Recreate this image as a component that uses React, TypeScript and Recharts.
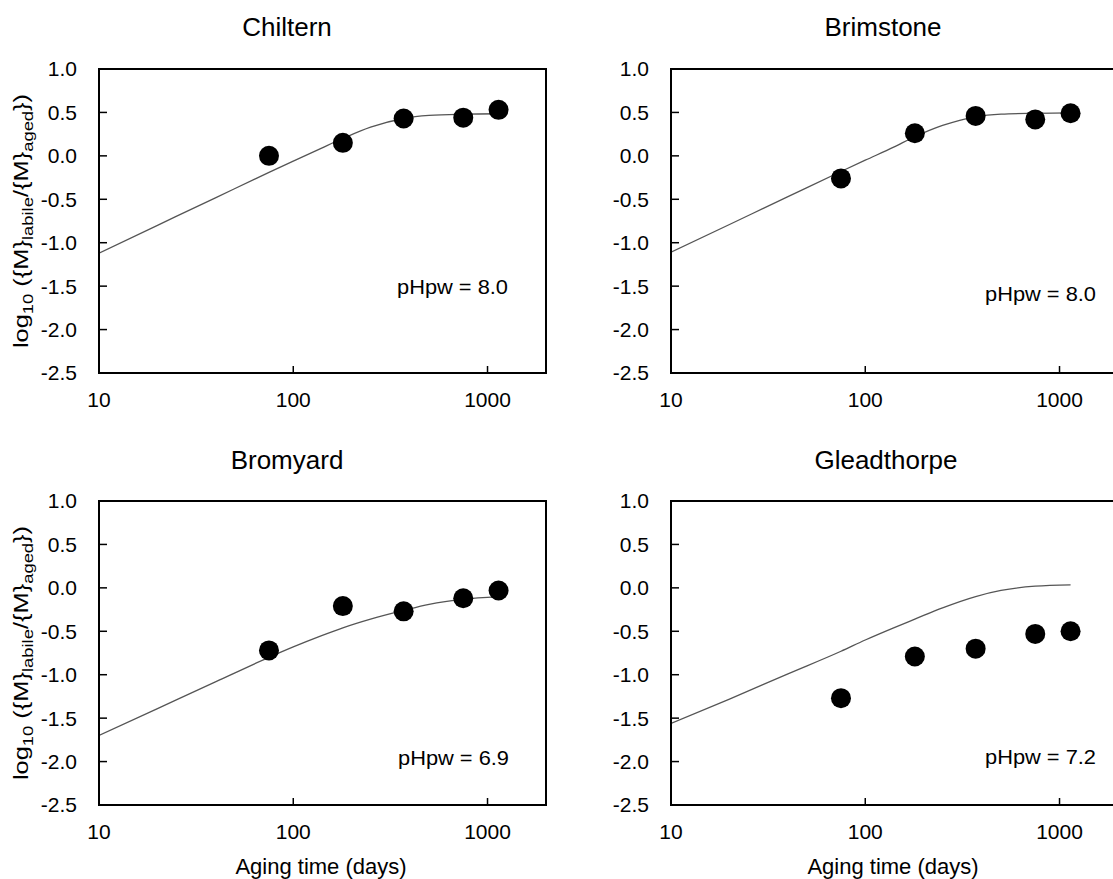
import React from 'react';
import { ComposedChart, Line, Scatter, XAxis, YAxis, ReferenceArea } from 'recharts';

const FONT = '"Liberation Sans", Arial, Helvetica, sans-serif';

// Observed points (aging time in days)
const agingDays = [75, 180, 370, 750, 1140];
const chilternObs = [0.0, 0.15, 0.43, 0.44, 0.53];
const brimstoneObs = [-0.26, 0.26, 0.46, 0.42, 0.49];
const bromyardObs = [-0.72, -0.21, -0.27, -0.12, -0.03];
const gleadthorpeObs = [-1.27, -0.79, -0.7, -0.53, -0.5];

// Model curves
const curveDays = [10, 20, 40, 75, 100, 140, 180, 250, 370, 500, 750, 1140];
const chilternFit = [-1.12, -0.8, -0.48, -0.19, -0.06, 0.09, 0.2, 0.33, 0.43, 0.465, 0.48, 0.485];
const brimstoneFit = [-1.11, -0.79, -0.47, -0.18, -0.05, 0.1, 0.22, 0.35, 0.45, 0.48, 0.49, 0.495];
const bromyardFit = [-1.7, -1.39, -1.08, -0.8, -0.68, -0.55, -0.46, -0.36, -0.26, -0.19, -0.13, -0.1];
const gleadthorpeFit = [-1.56, -1.28, -0.99, -0.73, -0.6, -0.46, -0.36, -0.23, -0.1, -0.03, 0.02, 0.035];

const xTicks = [10, 100, 1000];
const yTicks = [-2.5, -2.0, -1.5, -1.0, -0.5, 0.0, 0.5, 1.0];
const xDomain = [10, 2000];
const yDomain = [-2.5, 1.0];

const CW = 560;
const CH = 447;
const MARGIN = { top: 69, left: 98, right: CW - 99 - 447, bottom: CH - 69 - 304 - 1 };

type PanelProps = {
  title: string;
  obs: number[];
  fit: number[];
  ph: string;
  left: number;
  top: number;
  titleX: number;
  titleY: number;
  phX: number;
  phY: number;
  yLabel: boolean;
  xLabel: boolean;
};

const Dot = (p: any) => {
  if (p.cx == null || p.cy == null) return null;
  return <circle cx={p.cx} cy={p.cy} r={10} fill="#000" />;
};

function Panel(props: PanelProps) {
  const obsData = agingDays.map((x, i) => ({ x, y: props.obs[i] }));
  const fitData = curveDays.map((x, i) => ({ x, y: props.fit[i] }));
  const plotCenterY = 69 + 152;
  return (
    <div style={{ position: 'absolute', left: props.left, top: props.top, width: CW, height: CH }}>
      <ComposedChart width={CW} height={CH} margin={MARGIN}>
        <XAxis
          type="number"
          dataKey="x"
          scale="log"
          domain={xDomain}
          ticks={xTicks}
          interval={0}
          allowDataOverflow
          height={1}
          tickSize={-7}
          tickMargin={26}
          axisLine={{ stroke: '#000', strokeWidth: 2 }}
          tickLine={{ stroke: '#000', strokeWidth: 1.5 }}
          tick={{ fontSize: 21, fill: '#000', fontFamily: FONT }}
        />
        <YAxis
          type="number"
          dataKey="y"
          domain={yDomain}
          ticks={yTicks}
          interval={0}
          allowDataOverflow
          width={1}
          tickSize={-8}
          tickMargin={30}
          tickFormatter={(v: number) => v.toFixed(1)}
          axisLine={{ stroke: '#000', strokeWidth: 2 }}
          tickLine={{ stroke: '#000', strokeWidth: 1.5 }}
          tick={{ fontSize: 21, fill: '#000', fontFamily: FONT }}
        />
        <ReferenceArea
          x1={xDomain[0]}
          x2={xDomain[1]}
          y1={yDomain[0]}
          y2={yDomain[1]}
          fill="none"
          fillOpacity={0}
          stroke="#000"
          strokeWidth={2}
          ifOverflow="visible"
        />
        <Line
          data={fitData}
          dataKey="y"
          type="monotone"
          stroke="#555"
          strokeWidth={1.3}
          dot={false}
          activeDot={false}
          isAnimationActive={false}
        />
        <Scatter data={obsData} dataKey="y" fill="#000" shape={Dot} isAnimationActive={false} />
        <text x={props.titleX} y={props.titleY} textAnchor="middle" fontSize={26} fontFamily={FONT} fill="#000">
          {props.title}
        </text>
        <text x={props.phX} y={props.phY} fontSize={20} fontFamily={FONT} fill="#000" textLength={111} lengthAdjust="spacingAndGlyphs">
          {props.ph}
        </text>
        {props.yLabel && (
          <text
            x={0}
            y={0}
            transform={`translate(28, ${plotCenterY}) rotate(-90) scale(1.27, 1)`}
            textAnchor="middle"
            fontSize={20}
            fontFamily={FONT}
            fill="#000"
          >
            <tspan>log</tspan>
            <tspan dy={5} fontSize={14.5}>10</tspan>
            <tspan dy={-5}> ({'{'}M{'}'}</tspan>
            <tspan dy={5} fontSize={14.5}>labile</tspan>
            <tspan dy={-5}>/{'{'}M{'}'}</tspan>
            <tspan dy={5} fontSize={14.5}>aged</tspan>
            <tspan dy={-5}>{'}'})</tspan>
          </text>
        )}
        {props.xLabel && (
          <text x={321} y={441.7} textAnchor="middle" fontSize={22} fontFamily={FONT} fill="#000">
            Aging time (days)
          </text>
        )}
      </ComposedChart>
    </div>
  );
}

export default function App() {
  return (
    <div
      style={{
        position: 'absolute',
        left: 0,
        top: 0,
        width: 1113,
        height: 879,
        overflow: 'hidden',
        background: '#fff',
      }}
    >
      <Panel title="Chiltern" obs={chilternObs} fit={chilternFit} ph="pHpw = 8.0"
        left={0} top={0} titleX={287} titleY={35.7} phX={397} phY={294} yLabel xLabel={false} />
      <Panel title="Brimstone" obs={brimstoneObs} fit={brimstoneFit} ph="pHpw = 8.0"
        left={572} top={0} titleX={311} titleY={35.7} phX={413} phY={301} yLabel={false} xLabel={false} />
      <Panel title="Bromyard" obs={bromyardObs} fit={bromyardFit} ph="pHpw = 6.9"
        left={0} top={432} titleX={287} titleY={37} phX={398} phY={333} yLabel xLabel />
      <Panel title="Gleadthorpe" obs={gleadthorpeObs} fit={gleadthorpeFit} ph="pHpw = 7.2"
        left={572} top={432} titleX={314} titleY={37} phX={413} phY={331.5} yLabel={false} xLabel />
    </div>
  );
}
